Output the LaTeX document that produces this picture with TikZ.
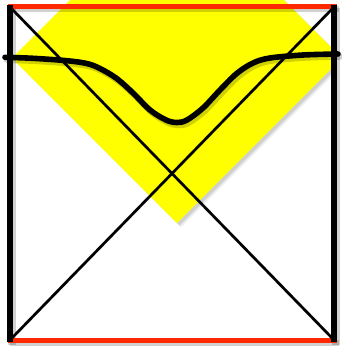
\documentclass[tikz,border=0pt]{standalone}
\begin{document}
\begin{tikzpicture}[x=1pt,y=-1pt,
  frameside/.style={line width=6.8pt,black},
  frameedge/.style={line width=5pt,draw=edgered},
  diag/.style={line width=2.6pt,black},
  wave/.style={line width=5.6pt,black,line cap=round,line join=round},
  shadowA/.style={draw=black,opacity=0.18}]
\definecolor{edgered}{RGB}{255,40,0}
\definecolor{envyellow}{RGB}{255,255,0}
\useasboundingbox (0,0) rectangle (341,349);
\fill[white] (0,0) rectangle (341,349);
% named corners of the frame
\coordinate (tl) at (10,7);
\coordinate (tr) at (334,7);
\coordinate (bl) at (10,340);
\coordinate (br) at (334,340);
% yellow diamond with soft shadow
\begin{scope}
  \clip (0,0) rectangle (335,349);
  \fill[black,opacity=0.07] (181,-103) -- (346,62) -- (181,227) -- (16,62) -- cycle;
  \fill[black,opacity=0.12] (179.5,-104.5) -- (344.5,60.5) -- (179.5,225.5) -- (14.5,60.5) -- cycle;
  \fill[envyellow] (177,-107) -- (342,58) -- (177,223) -- (12,58) -- cycle;
\end{scope}
% shadows of lines
\begin{scope}[shift={(2,2.5)}]
  \draw[shadowA,line width=3.2pt] (tl) -- (br);
  \draw[shadowA,line width=3.2pt] (tr) -- (bl);
  \draw[shadowA,line width=6pt] (8,340) -- (337,340);
  \draw[shadowA,line width=6pt] (8,6.5) -- (337,6.5);
  \draw[shadowA,line width=7.5pt] (10,5) -- (10,342);
  \draw[shadowA,line width=7.5pt] (334,5) -- (334,342);
  \draw[shadowA,line width=6.5pt,line cap=round] plot[smooth,tension=0.55] coordinates {(5,57.3) (33,58.3) (66.7,60.7) (86.7,63.5) (100,68.5) (116.7,78.5) (133,93) (150,110) (166,120) (177,122.5) (187,120) (203,108) (220,90) (236.7,73.5) (253,63) (270,58) (303,55) (338,54)};
\end{scope}
% frame edges
\draw[frameedge] (8,6.5) -- (337,6.5);
\draw[frameedge] (8,340) -- (337,340);
\draw[frameside] (10,5) -- (10,342);
\draw[frameside] (334,5) -- (334,342);
% diagonals
\draw[diag] (tl) -- (br);
\draw[diag] (tr) -- (bl);
% wave
\draw[wave] plot[smooth,tension=0.55] coordinates {(5,57.3) (33,58.3) (66.7,60.7) (86.7,63.5) (100,68.5) (116.7,78.5) (133,93) (150,110) (166,120) (177,122.5) (187,120) (203,108) (220,90) (236.7,73.5) (253,63) (270,58) (303,55) (338,54)};
\end{tikzpicture}
\end{document}
